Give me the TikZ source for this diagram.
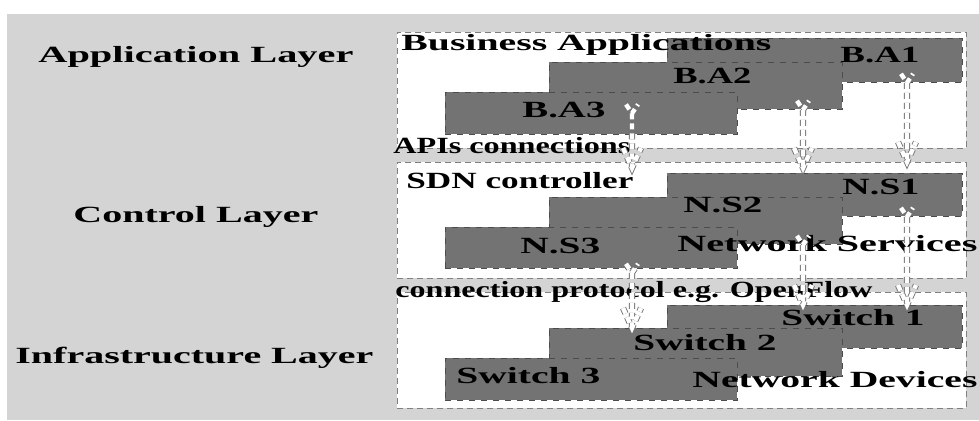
\documentclass[tikz,border=0pt]{standalone}
\usepackage{fontspec}
\setmainfont{Liberation Serif}
\usetikzlibrary{calc}
\newlength\pxu
\setlength\pxu{0.5pt}
% texto ensanchado a un ancho dado (en px)
\newcommand{\anchow}[2]{\resizebox{#1\pxu}{\height}{#2}}
\definecolor{fondo}{gray}{0.83}
\definecolor{bloque}{gray}{0.45}
\tikzset{
  capa/.style={draw=black!50, densely dashed, line width=0.4pt, fill=white,
    anchor=north west, inner sep=0pt, minimum width=569\pxu, minimum height=116\pxu},
  caja/.style={draw=black!70, dashed, line width=0.4pt, fill=bloque,
    anchor=north west, inner sep=0pt},
  etiqueta/.style={anchor=base west, inner sep=0pt,
    font=\fontsize{11.6}{13}\selectfont\bfseries},
  flecha/.style={draw=black!55, densely dashed, line width=0.45pt, double=white,
    double distance=2.2pt, line join=miter,
    to path={($(\tikztostart)+(-6,-9)$) -- (\tikztostart) -- ($(\tikztostart)+(6,-9)$)
      (\tikztostart) -- (\tikztotarget)
      ($(\tikztotarget)+(-9,-20)$) -- (\tikztotarget) -- ($(\tikztotarget)+(9,-20)$)}}
}
\begin{document}
\begin{tikzpicture}[x=\pxu, y=-\pxu]
    \useasboundingbox (0,0) rectangle (979,420);
    % Fondo
    \fill[white] (0,0) rectangle (979,420);
    \fill[fondo] (7,14) rectangle (979,420);
    % Capas
    \node[capa] (appbox) at (397,32) {};
    \node[capa] (ctrlbox) at (397,162) {};
    \node[capa] (infbox) at (397,292) {};
    % Aplicaciones
    \node[caja, minimum width=295\pxu, minimum height=44\pxu] (ba1) at (667,38) {};
    \node[caja, minimum width=293\pxu, minimum height=47\pxu] (ba2) at (549,62) {};
    \node[caja, minimum width=292\pxu, minimum height=42\pxu] (ba3) at (445,92) {};
    % Servicios de red
    \node[caja, minimum width=295\pxu, minimum height=43\pxu] (ns1) at (667,173) {};
    \node[caja, minimum width=293\pxu, minimum height=47\pxu] (ns2) at (549,197) {};
    \node[caja, minimum width=292\pxu, minimum height=41\pxu] (ns3) at (445,227) {};
    % Conmutadores
    \node[caja, minimum width=295\pxu, minimum height=43\pxu] (sw1) at (667,305) {};
    \node[caja, minimum width=293\pxu, minimum height=48\pxu] (sw2) at (549,328) {};
    \node[caja, minimum width=292\pxu, minimum height=42\pxu] (sw3) at (445,358) {};
    % Nombres de las capas
    \node[etiqueta] (lapp) at (38,62) {\anchow{315}{Application Layer}};
    \node[etiqueta] (lctrl) at (73,222) {\anchow{245}{Control Layer}};
    \node[etiqueta] (linf) at (15,363) {\anchow{358}{Infrastructure Layer}};
    % Textos de aplicaciones
    \node[etiqueta] (tapp) at (401,50) {\anchow{370}{Business Applications}};
    \node[etiqueta] (tba1) at (840,62) {\anchow{79}{B.A1}};
    \node[etiqueta] (tba2) at (673,83) {\anchow{78}{B.A2}};
    \node[etiqueta] (tba3) at (522,117) {\anchow{83}{B.A3}};
    \node[etiqueta] (tapi) at (393,153) {\anchow{237}{APIs connections}};
    % Textos del controlador
    \node[etiqueta] (tsdn) at (406,188) {\anchow{227}{SDN controller}};
    \node[etiqueta] (tns1) at (842,194) {\anchow{77}{N.S1}};
    \node[etiqueta] (tns2) at (683,212) {\anchow{79}{N.S2}};
    \node[etiqueta] (tns3) at (520,253) {\anchow{80}{N.S3}};
    \node[etiqueta] (tserv) at (677,251) {\anchow{300}{Network Services}};
    \node[etiqueta] (tprot) at (395,297) {\anchow{477}{connection protocol e.g. OpenFlow}};
    % Textos de infraestructura
    \node[etiqueta] (tsw1) at (781,325) {\anchow{143}{Switch 1}};
    \node[etiqueta] (tsw2) at (633,350) {\anchow{143}{Switch 2}};
    \node[etiqueta] (tsw3) at (456,383) {\anchow{144}{Switch 3}};
    \node[etiqueta] (tdev) at (692,387) {\anchow{285}{Network Devices}};
    % Flechas
    \coordinate (colA) at (632,0);
    \coordinate (colB) at (803,0);
    \coordinate (colC) at (907,0);
    \draw[flecha] (ba3.center -| colA) to ($(ctrlbox.north -| colA)+(0,6)$);
    \draw[flecha] (ba2.south -| colB) to ($(ctrlbox.north -| colB)+(0,6)$);
    \draw[flecha] (ba1.south -| colC) to (ctrlbox.north -| colC);
    \draw[flecha] ($(ns3.south -| colA)+(0,4)$) to (sw2.north -| colA);
    \draw[flecha] (ns2.south -| colB) to (sw1.north -| colB);
    \draw[flecha] (ns1.south -| colC) to (sw1.north -| colC);
\end{tikzpicture}
\end{document}
